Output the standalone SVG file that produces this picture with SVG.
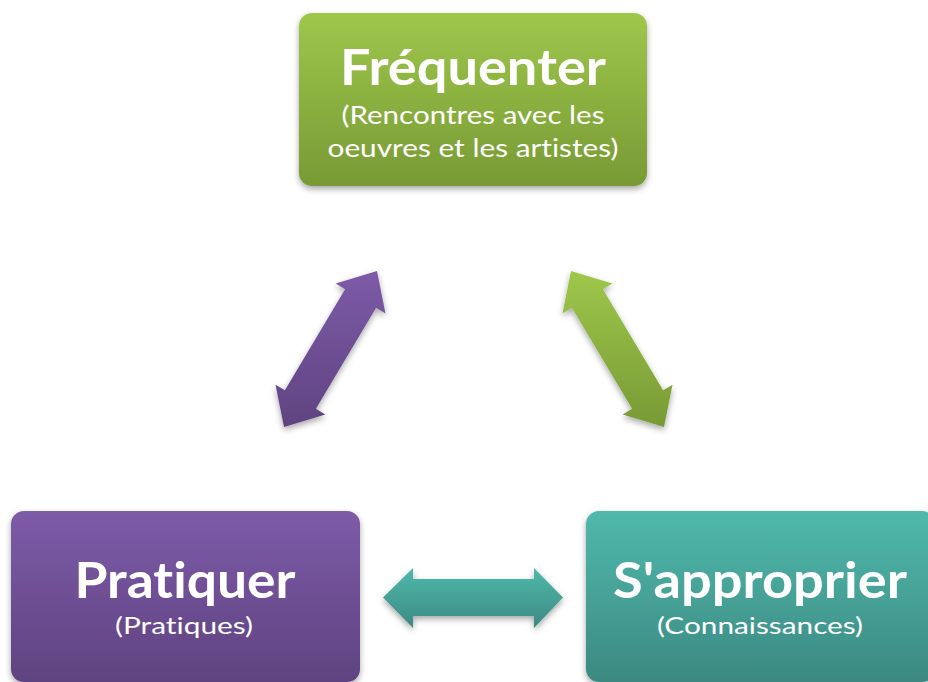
<svg xmlns="http://www.w3.org/2000/svg" width="928" height="682" viewBox="0 0 928 682">
<defs>
<linearGradient id="gGreen" x1="0" y1="0" x2="0" y2="1"><stop offset="0" stop-color="#9ec74b"/><stop offset="1" stop-color="#789a35"/></linearGradient>
<linearGradient id="gPurple" x1="0" y1="0" x2="0" y2="1"><stop offset="0" stop-color="#7d5ba8"/><stop offset="1" stop-color="#5f4380"/></linearGradient>
<linearGradient id="gTeal" x1="0" y1="0" x2="0" y2="1"><stop offset="0" stop-color="#50b9ac"/><stop offset="1" stop-color="#3c8981"/></linearGradient>
<filter id="sh" x="-20%" y="-20%" width="140%" height="150%"><feDropShadow dx="0" dy="3" stdDeviation="3" flood-color="#000" flood-opacity="0.35"/></filter>
</defs>
<style>
.t{font-family:Lato,"Open Sans","Liberation Sans",sans-serif;font-weight:bold;fill:#fff;text-anchor:middle;font-variant-ligatures:none}
.s{font-family:Lato,"Open Sans","Liberation Sans",sans-serif;fill:#fff;text-anchor:middle;font-variant-ligatures:none}
</style>
<g id="connectors" filter="url(#sh)">
<polygon id="arrow-left" fill="url(#gPurple)" points="377,271 385.5,313.4 376.1,307.7 315.9,408.7 325.3,414.4 284,427 275.5,384.7 284.9,390.3 345.1,289.3 335.7,283.6"/>
<polygon id="arrow-right" fill="url(#gGreen)" points="571,271 562.5,313.4 571.9,307.7 632.1,408.7 622.7,414.4 664,427 672.5,384.7 663.1,390.3 602.9,289.3 612.3,283.6"/>
<polygon id="arrow-bottom" fill="url(#gTeal)" points="383,597.5 413,568 413,579 534,579 534,568 563,597.5 534,628 534,616 413,616 413,628"/>
</g>
<g id="node-frequenter">
<rect x="299" y="13" width="348" height="173" rx="13" fill="url(#gGreen)" filter="url(#sh)"/>
<text class="t" x="473" y="85" font-size="50" textLength="266" lengthAdjust="spacingAndGlyphs">Fréquenter</text>
<text class="s" x="473" y="124" font-size="25" textLength="263" lengthAdjust="spacingAndGlyphs">(Rencontres avec les</text>
<text class="s" x="473" y="157" font-size="25" textLength="291" lengthAdjust="spacingAndGlyphs">oeuvres et les artistes)</text>
</g>
<g id="node-pratiquer">
<rect x="11" y="511" width="349" height="171" rx="13" fill="url(#gPurple)" filter="url(#sh)"/>
<text class="t" x="185" y="598" font-size="49" textLength="221" lengthAdjust="spacingAndGlyphs">Pratiquer</text>
<text class="s" x="184" y="634" font-size="24" textLength="138" lengthAdjust="spacingAndGlyphs">(Pratiques)</text>
</g>
<g id="node-sapproprier">
<rect x="586" y="511" width="349" height="171" rx="13" fill="url(#gTeal)" filter="url(#sh)"/>
<text class="t" x="760" y="598" font-size="49" textLength="294" lengthAdjust="spacingAndGlyphs">S'approprier</text>
<text class="s" x="760" y="634" font-size="24" textLength="206" lengthAdjust="spacingAndGlyphs">(Connaissances)</text>
</g>
</svg>
